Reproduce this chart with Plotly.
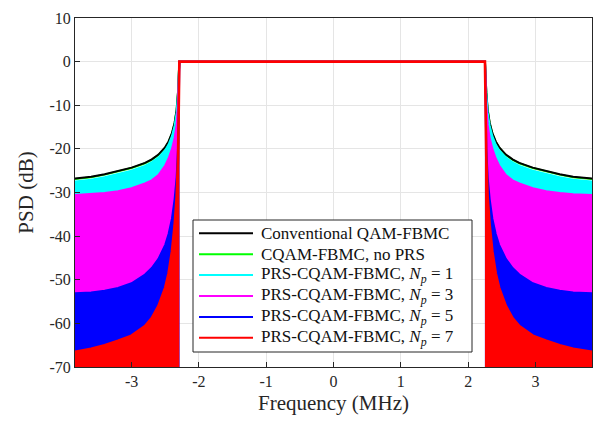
import plotly.graph_objects as go

# Frequency grids (MHz) for the out-of-band regions on each side of the passband
f_left = [-3.84, -3.60, -3.40, -3.20, -3.00, -2.80, -2.70, -2.60, -2.50,
          -2.45, -2.40, -2.36, -2.33, -2.31, -2.30, -2.29]
f_right = [2.25, 2.26, 2.27, 2.29, 2.32, 2.36, 2.41, 2.46, 2.56,
           2.66, 2.76, 2.96, 3.16, 3.36, 3.56, 3.84]

# Passband edges (MHz)
band_lo = -2.29
band_hi = 2.25

# Upper PSD envelopes (dB) along f_left (mirrored onto f_right)
psd_conv = [-26.8, -26.4, -25.8, -25.1, -24.3, -23.2, -22.4, -21.3, -19.6,
            -18.3, -16.4, -14.0, -11.0, -7.0, -4.0, 0.0]
psd_noprs = [-26.9, -26.5, -25.9, -25.2, -24.4, -23.3, -22.5, -21.4, -19.7,
             -18.4, -16.5, -14.1, -11.1, -7.1, -4.1, 0.0]
psd_np1 = [-27.5, -27.1, -26.5, -25.8, -25.0, -23.9, -23.1, -22.0, -20.3,
           -19.0, -17.1, -14.7, -11.7, -7.6, -4.5, 0.0]
psd_np3 = [-30.6, -30.4, -30.1, -29.7, -29.0, -27.9, -27.2, -26.0, -23.8,
           -22.2, -20.0, -17.5, -14.5, -10.0, -6.0, 0.0]
psd_np5 = [-53.1, -52.9, -52.5, -51.9, -50.8, -48.8, -47.3, -45.2, -42.0,
           -39.5, -36.0, -31.5, -26.5, -20.0, -12.0, 0.0]
psd_np7 = [-66.5, -65.8, -65.0, -64.0, -62.8, -60.6, -58.8, -56.0, -51.8,
           -48.5, -43.5, -37.5, -31.0, -22.0, -12.0, 0.0]

# Passband level (dB)
passband_db = 0.0

names = ["Conventional QAM-FBMC",
         "CQAM-FBMC, no PRS",
         "PRS-CQAM-FBMC, <i>N</i><sub><i>p</i></sub> = 1",
         "PRS-CQAM-FBMC, <i>N</i><sub><i>p</i></sub> = 3",
         "PRS-CQAM-FBMC, <i>N</i><sub><i>p</i></sub> = 5",
         "PRS-CQAM-FBMC, <i>N</i><sub><i>p</i></sub> = 7"]
colors = ["#000000", "#00ff00", "#00ffff", "#ff00ff", "#0000ff", "#ff0000"]
widths = [2.0, 2.0, 2.0, 2.0, 2.0, 2.6]
series = [psd_conv, psd_noprs, psd_np1, psd_np3, psd_np5, psd_np7]
filled = [False, False, True, True, True, True]

x_ticks = [-3, -2, -1, 0, 1, 2, 3]
x_ticktext = ["-3", "-2", "-1", "0", "1", "2", "3"]
y_ticks = [-70, -60, -50, -40, -30, -20, -10, 0, 10]
y_ticktext = ["-70", "-60", "-50", "-40", "-30", "-20", "-10", "0", "10"]

floor_db = -95.0
serif = "Liberation Serif"

# Figure geometry (px)
W, H = 597, 422
ML, MR, MT, MB = 75, 5, 18, 55
PW, PH = W - ML - MR, H - MT - MB


def px_x(px):
    return (px - ML) / PW


def px_y(py):
    return (H - MB - py) / PH


fig = go.Figure()

# Noisy out-of-band PSD estimates fill the area under their upper envelopes
for env, col, fl in zip(series, colors, filled):
    if not fl:
        continue
    env_r = env[::-1]
    fig.add_trace(go.Scatter(
        x=f_left + [band_lo, f_left[0], f_left[0]],
        y=env + [floor_db, floor_db, env[0]],
        mode="lines", fill="toself", fillcolor=col,
        line=dict(width=0, color=col), hoverinfo="skip", showlegend=False))
    fig.add_trace(go.Scatter(
        x=[band_hi] + f_right + [f_right[-1], band_hi],
        y=[floor_db] + env_r + [floor_db, floor_db],
        mode="lines", fill="toself", fillcolor=col,
        line=dict(width=0, color=col), hoverinfo="skip", showlegend=False))

# Full PSD curves: stopband envelope, band edges and flat passband
draw_order = [1, 0, 2, 3, 4, 5]
for i in draw_order:
    env = series[i]
    x = f_left + [band_lo, band_hi] + f_right
    y = env + [passband_db, passband_db] + env[::-1]
    fig.add_trace(go.Scatter(
        x=x, y=y, mode="lines", name=names[i], showlegend=False,
        line=dict(color=colors[i], width=widths[i])))

# Legend box with line keys and labels
box_l, box_t, box_r, box_b = 193, 220, 472, 352
row0, row_step = 233.3, 20.9
key_x0, key_x1, text_x = 199, 253, 259
shapes = [dict(type="rect", xref="paper", yref="paper",
               x0=px_x(box_l), x1=px_x(box_r), y0=px_y(box_b), y1=px_y(box_t),
               fillcolor="white", line=dict(color="#262626", width=1), layer="above")]
annotations = []
for k, (nm, col) in enumerate(zip(names, colors)):
    yc = row0 + k * row_step
    shapes.append(dict(type="line", xref="paper", yref="paper",
                       x0=px_x(key_x0), x1=px_x(key_x1), y0=px_y(yc), y1=px_y(yc),
                       line=dict(color=col, width=2), layer="above"))
    annotations.append(dict(xref="paper", yref="paper", x=px_x(text_x), y=px_y(yc),
                            xanchor="left", yanchor="middle", text=nm, showarrow=False,
                            font=dict(family=serif, size=17, color="#111111")))

axis_font = dict(family=serif, size=16, color="#262626")
title_font = dict(family=serif, size=21, color="#262626")

fig.update_xaxes(
    range=[-3.84, 3.84], tickvals=x_ticks, ticktext=x_ticktext,
    showgrid=True, gridcolor="#e5e5e5", gridwidth=1, zeroline=False,
    showline=True, linecolor="#262626", linewidth=1, mirror=True,
    ticks="inside", ticklen=5, tickcolor="#262626", tickfont=axis_font,
    title=dict(text="Frequency (MHz)", font=title_font, standoff=6))
fig.update_yaxes(
    range=[-70, 10], tickvals=y_ticks, ticktext=y_ticktext,
    showgrid=True, gridcolor="#e5e5e5", gridwidth=1, zeroline=False,
    showline=True, linecolor="#262626", linewidth=1, mirror=True,
    ticks="inside", ticklen=5, tickcolor="#262626", tickfont=axis_font,
    title=dict(text="PSD (dB)", font=title_font, standoff=10))

fig.update_layout(
    width=W, height=H,
    margin=dict(l=ML, r=MR, t=MT, b=MB),
    plot_bgcolor="white", paper_bgcolor="white",
    font=dict(family=serif),
    showlegend=False,
    shapes=shapes,
    annotations=annotations,
)

fig.write_html("out.html")
